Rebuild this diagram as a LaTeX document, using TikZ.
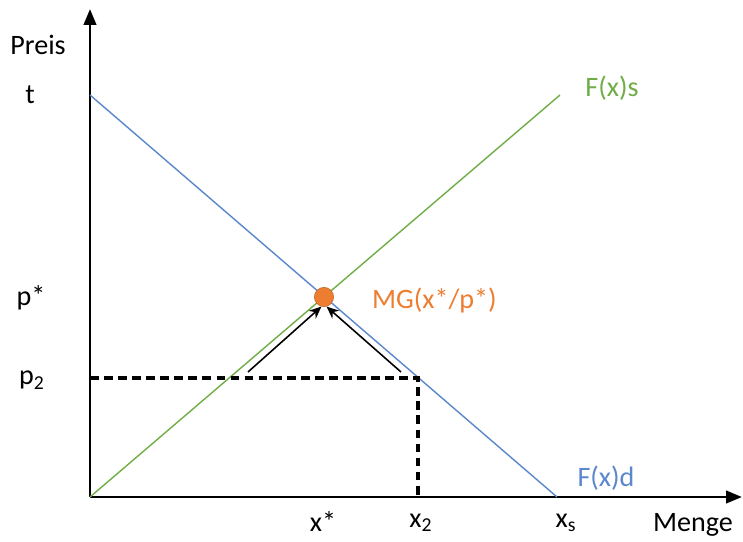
\documentclass[tikz,border=0pt]{standalone}
\usepackage{fontspec}
\setmainfont{Carlito}
\usepackage{tikz}
\usetikzlibrary{arrows.meta, positioning, calc}
\definecolor{demandblue}{HTML}{5B87CC}
\definecolor{supplygreen}{HTML}{70AD47}
\definecolor{mgorange}{HTML}{ED7D31}
\tikzset{
  axis/.style={line width=1.6pt, -{Triangle[length=9pt, width=7pt]}},
  curve/.style={line width=0.8pt},
  guide/.style={line width=1.8pt, dash pattern=on 5pt off 3pt},
  push/.style={line width=0.9pt, -{Stealth[length=7pt, width=6pt]}},
  lbl/.style={font=\fontsize{16}{19}\selectfont, inner sep=1pt}
}

\begin{document}
\begin{tikzpicture}[x=0.02cm, y=0.02cm]
    \useasboundingbox (0,0) rectangle (743,541);
    % Axes
    \coordinate (O) at (90,44);
    \coordinate (ytop) at (90,532);
    \coordinate (xend) at (742,44);
    \draw[axis] (O) -- (ytop);
    \draw[axis] (O) -- (xend);

    % Supply and demand
    \coordinate (t) at (90,446);
    \coordinate (xs) at (557,44);
    \coordinate (send) at (560,446);
    \draw[curve, demandblue] (t) -- (xs);
    \draw[curve, supplygreen] (O) -- (send);

    % Dashed guides at p2 / x2
    \coordinate (p2) at (90,163);
    \coordinate (q2) at (418,163);
    \coordinate (x2) at (418,44);
    \draw[guide] (p2) -- (q2) -- (x2);

    % Equilibrium
    \node[circle, fill=mgorange, draw=mgorange!80!black, line width=0.3pt,
          minimum size=11pt, inner sep=0pt] (mg) at (324,244) {};
    \coordinate (fromleft) at (248,169);
    \coordinate (fromright) at (401,169);
    \draw[push] (fromleft) -- (mg.-105);
    \draw[push] (fromright) -- (mg.-75);

    % Labels
    \node[lbl] (preis) at (38,496) {Preis};
    \node[lbl] (tlab) at (30,446) {t};
    \node[lbl] (pstar) at (31,243) {p*};
    \node[lbl] (ptwo) at (32,161) {p\textsubscript{2}};
    \node[lbl] (xstar) at (323,19) {x*};
    \node[lbl] (xtwo) at (421,18) {x\textsubscript{2}};
    \node[lbl] (xslab) at (566,18) {x\textsubscript{s}};
    \node[lbl] (menge) at (693,16) {Menge};
    \node[lbl, text=supplygreen] (fs) at (612,453) {F(x)s};
    \node[lbl, text=demandblue] (fd) at (606,63) {F(x)d};
    \node[lbl, text=mgorange, anchor=west] (mglab) at (370,241) {MG(x*/p*)};
\end{tikzpicture}
\end{document}
